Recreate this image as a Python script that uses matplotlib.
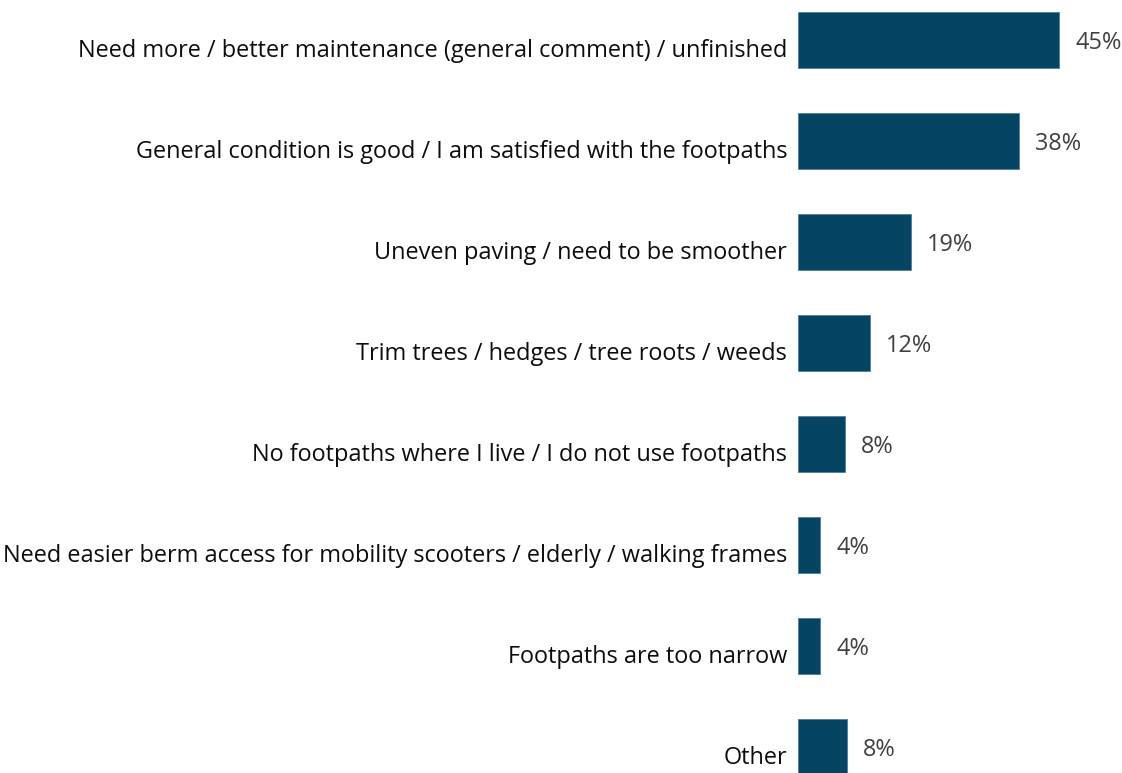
import matplotlib
matplotlib.use("Agg")
import matplotlib.pyplot as plt

categories = [
    "Need more / better maintenance (general comment) / unfinished",
    "General condition is good / I am satisfied with the footpaths",
    "Uneven paving / need to be smoother",
    "Trim trees / hedges / tree roots / weeds",
    "No footpaths where I live / I do not use footpaths",
    "Need easier berm access for mobility scooters / elderly / walking frames",
    "Footpaths are too narrow",
    "Other",
]
values = [45.0, 38.1, 19.4, 12.4, 8.1, 3.8, 3.8, 8.4]
value_labels = ["45%", "38%", "19%", "12%", "8%", "4%", "4%", "8%"]

plt.rcParams['font.family'] = ['Open Sans', 'DejaVu Sans']

W, H = 1122, 773
fig = plt.figure(figsize=(W / 100, H / 100), dpi=100)
fig.patch.set_facecolor("white")
ax = fig.add_axes([798 / W, 0, 1 - 798 / W, 1])

pos = list(range(len(categories)))
ax.barh(pos, values, height=0.555, color="#054563", edgecolor="#4d7f99", linewidth=0.6)

ax.set_xlim(0, (W - 798) / 5.8)
ax.set_ylim((773 - 40) / 101, -40 / 101)
ax.axis("off")

fs = 16.9
for i, (cat, v, vl) in enumerate(zip(categories, values, value_labels)):
    ax.annotate(cat, xy=(0, i), xycoords=("axes fraction", "data"),
                xytext=(-11, -17), textcoords="offset pixels",
                ha="right", va="baseline", fontsize=fs, color="#0d0d0d",
                annotation_clip=False)
    ax.annotate(vl, xy=(v, i), xycoords="data",
                xytext=(16, -3), textcoords="offset pixels",
                ha="left", va="center", fontsize=fs, color="#404040",
                annotation_clip=False)

fig.savefig("out.png", dpi=100, facecolor="white")
